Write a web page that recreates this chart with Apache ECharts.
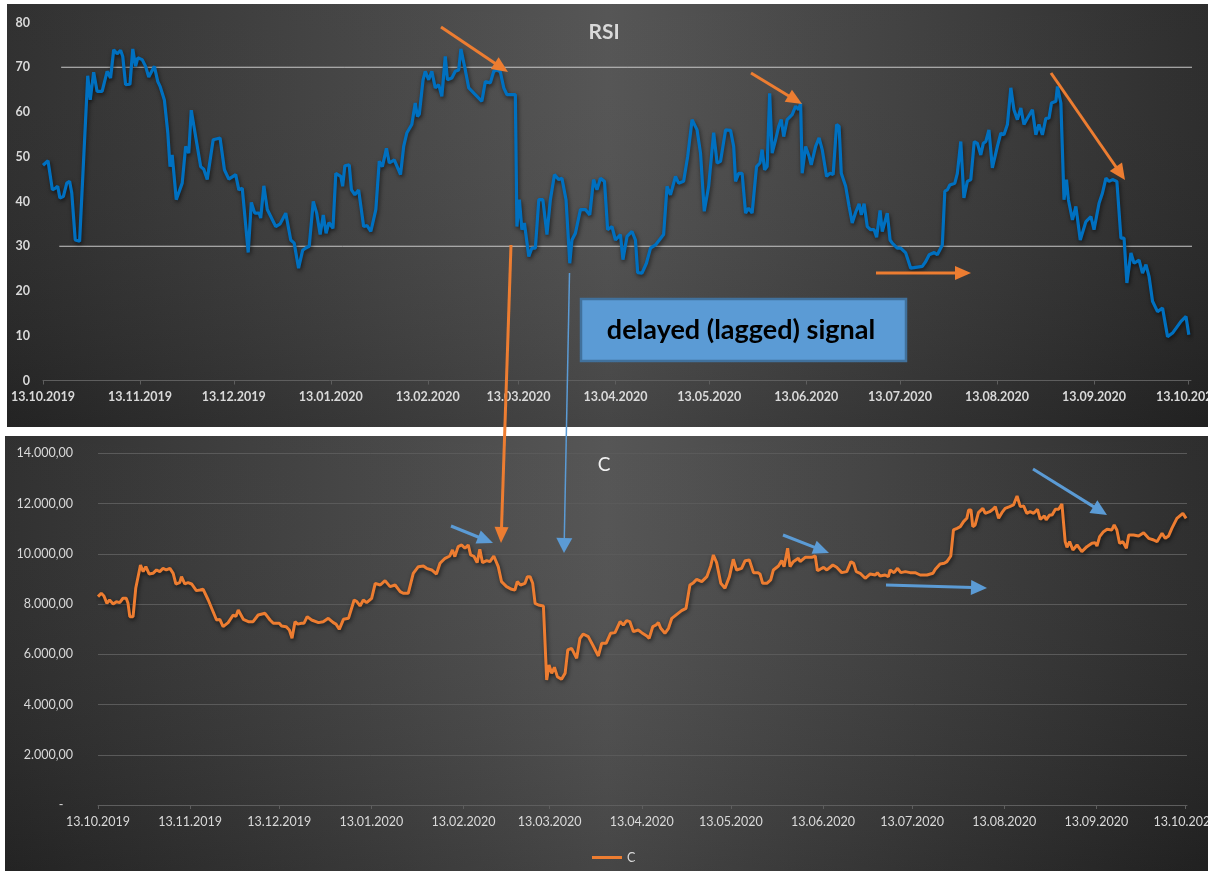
<!DOCTYPE html>
<html>
<head>
<meta charset="utf-8">
<script src="https://cdn.jsdelivr.net/npm/echarts@6/dist/echarts.min.js"></script>
<style>
  html, body { margin: 0; padding: 0; background: #ffffff; }
  #chart { width: 1208px; height: 871px; }
</style>
</head>
<body>
<div id="chart"></div>
<script>
// ---- Data (x = days since 13.10.2019) ----
const monthTickDays = [0, 31, 61, 92, 123, 152, 183, 213, 244, 274, 305, 336, 366];
const monthLabels = ['13.10.2019','13.11.2019','13.12.2019','13.01.2020','13.02.2020','13.03.2020',
  '13.04.2020','13.05.2020','13.06.2020','13.07.2020','13.08.2020','13.09.2020','13.10.2020'];

const rsiLevels = [70, 30];
const rsiLevelSpans = [[5.8, 369.3], [5.2, 368.6]];

const rsiSeries = [
[0,48.1],[1.6,49.1],[3,42.6],[4,43],[4.7,43.4],[5.4,40.8],[6.5,41.1],[7.6,44.1],[8.5,44.5],[9.2,41.9],
[10.3,31.4],[11.7,31.1],[14.3,68.1],[15.1,62.7],[16.2,68.9],[17.3,64.6],[18.9,64.6],[20.5,69.1],[21.6,67.6],[22.6,73.9],
[23.7,73],[24.8,73.8],[25.5,72.4],[26.4,66.1],[27.8,66.2],[28.7,74.1],[29.6,70.2],[30.3,72.1],[31.7,71.7],[32.8,70.2],
[33.8,67.8],[35.6,70.2],[36.7,66.8],[37.5,65.6],[38.8,62.7],[39.9,55.3],[40.6,47.8],[41.3,50.4],[42.6,40.4],[44.5,44.1],
[45.6,52.3],[46.6,50.8],[47.4,60.4],[48.8,54.5],[50.4,47.8],[51.4,47.2],[52.5,44.9],[54.4,53.8],[56.6,54.2],[58,47.1],
[59.4,45],[61.6,46],[62.6,42.6],[63.7,43],[65.6,28.6],[66.6,39.8],[67.7,37.4],[69.1,37.4],[69.6,36.3],[70.6,43.5],
[71.7,38.2],[74.4,34.4],[75.8,35],[77.6,37.4],[79.2,31.4],[80.3,30.7],[81.7,25.1],[83,29.1],[84,29.6],[85.1,30],
[86.4,40],[87.5,37.4],[88.6,32.6],[89.6,37],[90.5,32.9],[91.4,35.3],[92.7,34],[93.6,46.3],[95.2,45.6],[95.8,43.4],
[96.5,48],[97.9,48.2],[98.6,42.6],[99.7,41.5],[100.9,42.6],[102.5,34.4],[103.6,34.6],[104.8,33.3],[106.4,38.2],[107.5,49],
[108.5,47.8],[109.8,51.9],[110.7,48.6],[112.3,49.3],[114.3,46],[115.3,52.3],[116.3,55.3],[117.9,57.2],[119,62],[119.7,59],
[120.3,59.5],[121.5,67.2],[122.2,69.1],[123.3,67.2],[124.3,69.1],[125.4,65.4],[126.5,66.1],[127.5,63.5],[128.6,72.4],[129.3,67.2],
[130.7,67.6],[131.8,69.1],[132.9,69.4],[133.6,74.1],[135,69.4],[136.1,65.4],[138.2,63.9],[140.3,62.4],[141.4,66.8],[143,66.5],
[144.1,69.1],[145.1,69.4],[146.2,69],[147.3,65.4],[148.3,63.9],[151,63.9],[151.5,34.4],[152.3,40.4],[153.1,33.7],[153.9,35.2],
[155.3,27.7],[156.3,29.6],[157.4,29.6],[158.5,40.4],[159.8,40.4],[161.1,32.6],[162.2,40.4],[163.5,46],[164.9,44.9],[165.9,45.2],
[167.2,40.4],[168.4,26.2],[169.1,31.4],[170.2,32.9],[171.8,38.2],[173.4,38.2],[174.8,37],[176,44.9],[177.1,42.6],[178.2,45.2],
[179.5,44.5],[180.5,33.7],[181.9,34.4],[183,31.4],[184.6,32.6],[185.4,27],[186.7,32.2],[188.3,33.3],[189.4,31.4],[190.1,24.1],
[191.5,24],[192.9,26.2],[194.2,29.6],[195.8,30.3],[198.4,32.6],[199.5,43.4],[200.6,41.5],[202.2,45.6],[203.2,44.1],[204.8,44.5],
[206.1,50.1],[207.5,58.3],[209.1,56],[210.2,50.8],[211.4,37.8],[212.8,43.4],[214.4,55.4],[215.5,48.6],[216.6,49],[218.2,56],
[219.8,55.9],[220.8,52.3],[221.4,44.5],[222.4,46.3],[223.5,46.3],[224.6,37.4],[225.6,38.5],[226.7,37.4],[228.1,47.8],[229.2,48.6],
[229.9,51.6],[230.7,47.1],[231.5,47.8],[232.3,64.2],[233.1,50.8],[234.2,53.8],[235.2,56.8],[236,58.3],[236.8,54.5],[237.9,58.3],
[239.5,59.4],[240.6,61.3],[241.6,60.5],[242.2,62],[242.7,46.3],[243.8,52.3],[244.9,50.1],[245.6,48.2],[247,52.3],[248.1,54.2],
[249.1,51.6],[250.5,45.6],[251.6,46.3],[252.6,46],[253.7,57.2],[254.5,56.8],[255.2,46.3],[256.6,43.4],[257.7,38.9],[258.7,35.2],
[259.8,37.6],[260.9,39.5],[261.6,37],[262.5,39.5],[263.5,34.4],[264.6,33.7],[265.7,33.7],[266.5,32],[267.6,38],[268.3,33.3],
[269.9,37.4],[270.8,31.4],[271.5,30.7],[273.1,29.6],[274.2,29.6],[275.8,28.5],[277.4,25.1],[281.1,25.5],[282.2,26.6],[283.3,28.1],
[284.9,28.6],[285.9,28.1],[287.5,30.3],[288.3,42.3],[289.1,42.6],[289.9,43.7],[291.5,44.1],[292.3,46.3],[293.4,53.4],[294.4,40.8],
[295.5,44.5],[296.6,44.9],[297.7,53.4],[298.7,53],[299.8,50.4],[300.6,53],[301.4,53.4],[302.4,56],[303.5,47.5],[305.1,52.3],
[306.2,55.3],[307.2,54.9],[308.3,57.2],[309.4,65.4],[310.4,60.5],[311.5,58.3],[312.6,60.9],[313.6,57.2],[314.7,58.6],[316.3,60.5],
[317.4,54.9],[318.4,57.2],[319.5,54.9],[320.6,58.6],[321.6,58.6],[322.4,62],[323.8,62.4],[324.3,65.7],[325.4,62],[326.4,40.4],
[327.2,44.9],[327.8,40.4],[329.1,35.9],[330.2,38.9],[331.6,31.4],[333.4,35.5],[335,36.6],[336,33.7],[337.6,39.6],[338.7,41.9],
[339.8,45.2],[340.8,44.5],[341.9,44.9],[343.3,44.5],[344.6,31.8],[345.6,31.8],[346.5,21.8],[347.8,28.5],[348.8,26.2],[350.4,26.9],
[351.5,24],[352.6,25.9],[353.6,23.2],[354.7,17.7],[356.3,15.4],[357.9,16.2],[359.5,9.8],[361.1,10.6],[363.8,13.2],[365.4,14.3],
[366.3,10.2]
];

const cSeries = [
[0,8294],[1.1,8427],[2,8320],[3,8028],[3.9,8161],[5.1,8002],[6.2,8090],[7.3,8055],[8.4,8230],[9.5,8230],
[10.1,8028],[10.7,7497],[11.8,7497],[12.7,8626],[14.3,9554],[15.2,9289],[16.1,9488],[17.2,9196],[18.5,9223],[19.7,9356],
[20.8,9289],[21.9,9422],[23,9356],[24.2,9422],[25.3,9223],[26.2,8798],[27.5,8851],[28.1,9090],[29.2,8798],[30.3,8851],
[31.5,8798],[33.1,8533],[34.3,8559],[35.4,8586],[37.1,8161],[38.5,7763],[39.9,7365],[41,7390],[42.1,7099],[43.8,7259],
[45.5,7564],[46.4,7500],[47.2,7763],[48.9,7391],[50.6,7298],[52.2,7298],[53.9,7564],[56.2,7630],[57.9,7365],[59,7232],
[61,7232],[61.8,7126],[63.3,7099],[64.4,6967],[65.3,6635],[66.3,7298],[67.2,7200],[68.5,7232],[69.3,7232],[70.4,7497],
[71.9,7365],[74.2,7259],[75.8,7298],[77.5,7431],[79.2,7259],[80.1,7200],[81.2,6993],[82.6,7391],[84.3,7431],[86.2,8161],
[87.1,8100],[88.2,7922],[89.3,8161],[90.4,8055],[92.1,8227],[93.3,8825],[95,8758],[96.6,8931],[98.3,8692],[100,8758],
[101.7,8493],[102.7,8427],[104.4,8427],[106.1,9223],[107.8,9488],[109.5,9515],[110.6,9422],[112.3,9356],[113.9,9196],[115.1,9621],
[116.8,9820],[118.4,9913],[119.3,10152],[120.1,9886],[121.2,10284],[122.4,10351],[123.5,10218],[124.6,10351],[125.4,9953],[126.5,9900],
[127.6,9647],[128.5,10178],[129.4,9647],[130.8,9727],[131.9,9687],[133.2,9913],[134.7,9488],[135.8,8891],[137.5,8692],[139.2,8586],
[140.3,8559],[141.1,8891],[142.2,8758],[143.7,8825],[144.5,9090],[145.4,9090],[146.3,8825],[147.1,8028],[148.2,7962],[149.9,7922],
[151,4976],[151.8,5573],[152.7,5242],[153.6,5481],[154.6,5109],[156,5003],[157.2,5242],[158.1,6171],[159.4,6237],[161.1,5839],
[162.2,6635],[163.3,6807],[165,6701],[166.5,6369],[168.4,5932],[169.5,6436],[171,6436],[172.5,6834],[174,6861],[175.7,7298],
[176.8,7166],[177.9,7338],[179,7298],[180.2,6900],[181.8,6967],[183,6861],[184.7,6728],[185.5,6635],[186.7,7099],[187.8,7166],
[188.6,7259],[189.4,7033],[190.8,6834],[192,7033],[193.1,7431],[194.8,7590],[196.4,7736],[197.9,7829],[199.2,8758],[200.4,8851],
[201.5,8984],[203.2,8891],[204.9,9090],[206.2,9515],[207.1,9953],[208.2,9647],[209.6,8825],[211,8626],[212.5,9090],[213.8,9780],
[214.9,9356],[216.6,9422],[217.8,9727],[219.2,9753],[220.6,9249],[222,9249],[222.8,9196],[223.7,8825],[225.1,8825],[226.4,8958],
[227.3,9356],[229,9515],[230.1,9727],[230.9,9488],[232.1,10218],[232.9,9488],[234,9687],[235.7,9820],[236.3,9687],[238,9860],
[240.2,9860],[241.4,9913],[242.1,9329],[243,9382],[244.2,9461],[245.3,9356],[247.3,9554],[248.6,9461],[250.3,9249],[252,9289],
[253.4,9687],[254.3,9620],[255.2,9289],[256.5,9223],[258.2,9024],[259.9,9196],[261.6,9156],[262.3,9249],[263.2,9116],[264.9,9156],
[266,9090],[266.6,9356],[267.9,9249],[269.1,9422],[270.2,9249],[271.7,9289],[273.3,9249],[275,9249],[276.7,9156],[279,9156],
[281,9223],[281.8,9382],[283.4,9594],[284.8,9621],[285.7,9687],[287,9913],[287.9,10948],[289.1,11014],[290.2,11080],[291.3,11280],
[292.4,11412],[293,11744],[293.8,11744],[294.4,11080],[295.2,11147],[296.3,11638],[297.8,11810],[298.6,11611],[300.1,11677],[301.2,11770],
[302,11877],[303.1,11412],[304.2,11638],[305.3,11810],[306.8,11877],[308.1,11943],[309.3,12301],[310.4,11877],[311.5,11903],[312.6,11611],
[313.7,11677],[314.9,11611],[316.2,11770],[317.1,11372],[318.5,11505],[319.1,11346],[320.3,11545],[321.1,11545],[322.2,11770],[323.3,11770],
[324.4,11983],[325.5,10483],[326.1,10258],[327,10483],[328.1,10151],[329.5,10351],[331.1,10085],[332.8,10284],[334.5,10417],[335.6,10444],
[336.2,10311],[337.1,10682],[338.4,10881],[339.6,10974],[341.2,10948],[342,11147],[342.9,10948],[343.8,10417],[344.9,10483],[346.1,10218],
[346.9,10749],[348.5,10749],[350.2,10709],[351.9,10841],[353.6,10616],[355.3,10550],[356.4,10483],[358.1,10815],[359.2,10616],[360.3,10709],
[361.4,11014],[363.1,11412],[365.1,11611],[366.2,11412]
];

// ---- Styling helpers ----
const FONT = 'Lato, "Open Sans", sans-serif';
const ORANGE = '#ed7d31';
const BLUE_ANN = '#5b9bd5';

function dayLabel(v) {
  const i = monthTickDays.indexOf(v);
  return i >= 0 ? monthLabels[i] : '';
}
function deNumber(v) {
  if (v === 0) return '-   ';
  const s = Math.round(v).toString().replace(/\B(?=(\d{3})+(?!\d))/g, '.');
  return s + ',00';
}
function arrow(x1, y1, x2, y2, color, w, hl, hw) {
  const dx = x2 - x1, dy = y2 - y1, L = Math.hypot(dx, dy);
  const ux = dx / L, uy = dy / L, px = -uy, py = ux;
  const bx = x2 - ux * hl, by = y2 - uy * hl;
  return [
    { type: 'line', z: 100, shape: { x1: x1, y1: y1, x2: bx + ux * 2, y2: by + uy * 2 },
      style: { stroke: color, lineWidth: w } },
    { type: 'polygon', z: 100, shape: { points: [[x2, y2], [bx + px * hw / 2, by + py * hw / 2], [bx - px * hw / 2, by - py * hw / 2]] },
      style: { fill: color } }
  ];
}

// Annotation arrows (pixel annotations, not data)
const annotations = [].concat(
  arrow(441, 27, 508, 72, ORANGE, 3, 16, 14),
  arrow(751, 73, 802, 104, ORANGE, 3, 16, 14),
  arrow(1051, 73, 1125, 180, ORANGE, 3, 16, 15),
  arrow(876, 273, 971, 273, ORANGE, 3, 16, 14),
  arrow(511, 245, 501, 543, ORANGE, 3, 16, 14),
  arrow(569.5, 273, 564, 553, BLUE_ANN, 1.5, 15, 16),
  arrow(451, 526, 493, 543, BLUE_ANN, 3, 16, 14),
  arrow(783, 535, 829, 553, BLUE_ANN, 3, 16, 14),
  arrow(886, 585, 987, 588, BLUE_ANN, 3, 16, 15),
  arrow(1033, 469, 1107, 515, BLUE_ANN, 3, 16, 15)
);

const chart = echarts.init(document.getElementById('chart'), null, { renderer: 'canvas' });

const panelFill = () => new echarts.graphic.LinearGradient(0, 0, 1, 0, [
  { offset: 0, color: '#282828' },
  { offset: 0.5, color: '#4f4f4f' },
  { offset: 1, color: '#252525' }
]);
const panelShade = () => new echarts.graphic.LinearGradient(0, 0, 0, 1, [
  { offset: 0, color: 'rgba(255,255,255,0.04)' },
  { offset: 1, color: 'rgba(0,0,0,0.12)' }
]);

const option = {
  animation: false,
  backgroundColor: '#ffffff',
  title: [
    { text: 'RSI', left: 'center', top: 17,
      textStyle: { color: '#d9d9d9', fontFamily: FONT, fontWeight: 'bold', fontSize: 21 } },
    { text: 'C', left: 'center', top: 450,
      textStyle: { color: '#f2f2f2', fontFamily: FONT, fontWeight: 'normal', fontSize: 19 } }
  ],
  legend: {
    data: ['C'], left: 587, top: 846, icon: 'rect', itemWidth: 30, itemHeight: 3,
    textStyle: { color: '#d9d9d9', fontFamily: FONT, fontSize: 12.5 }
  },
  grid: [
    { left: 43, right: 17, top: 22.5, bottom: 490.5, outerBoundsMode: 'none' },
    { left: 98, right: 21, top: 453.3, bottom: 66, outerBoundsMode: 'none' }
  ],
  xAxis: [
    { type: 'value', gridIndex: 0, min: 0, max: 367,
      axisLine: { show: true, lineStyle: { color: '#5e5e5e', width: 1 } },
      axisTick: { show: true, length: 4, customValues: monthTickDays, lineStyle: { color: '#5e5e5e' } },
      axisLabel: { customValues: monthTickDays, formatter: dayLabel, color: '#d9d9d9',
        fontFamily: FONT, fontWeight: 'bold', fontSize: 12.5, margin: 10 },
      splitLine: { show: false } },
    { type: 'value', gridIndex: 1, min: 0, max: 366.5,
      axisLine: { show: true, lineStyle: { color: '#5e5e5e', width: 1 } },
      axisTick: { show: true, length: 4, customValues: monthTickDays, lineStyle: { color: '#5e5e5e' } },
      axisLabel: { customValues: monthTickDays, formatter: dayLabel, color: '#d9d9d9',
        fontFamily: FONT, fontSize: 12.5, margin: 10 },
      splitLine: { show: false } }
  ],
  yAxis: [
    { type: 'value', gridIndex: 0, min: 0, max: 80, interval: 10,
      axisLine: { show: false }, axisTick: { show: false }, splitLine: { show: false },
      axisLabel: { color: '#d9d9d9', fontFamily: FONT, fontWeight: 'bold', fontSize: 12.5, margin: 13 } },
    { type: 'value', gridIndex: 1, min: 0, max: 14000, interval: 2000,
      axisLine: { show: false }, axisTick: { show: false },
      splitLine: { show: true, lineStyle: { color: '#5a5a5a', width: 1 } },
      axisLabel: { color: '#d9d9d9', fontFamily: FONT, fontSize: 12.5, margin: 25, formatter: deNumber } }
  ],
  series: [
    { name: 'L70', type: 'line', xAxisIndex: 0, yAxisIndex: 0, clip: false, silent: true,
      showSymbol: false, z: 1,
      data: rsiLevelSpans[0].map(d => [d, rsiLevels[0]]),
      lineStyle: { color: '#c8c8c8', width: 1 } },
    { name: 'L30', type: 'line', xAxisIndex: 0, yAxisIndex: 0, clip: false, silent: true,
      showSymbol: false, z: 1,
      data: rsiLevelSpans[1].map(d => [d, rsiLevels[1]]),
      lineStyle: { color: '#c8c8c8', width: 1 } },
    { name: 'RSI', type: 'line', xAxisIndex: 0, yAxisIndex: 0, showSymbol: false, z: 3,
      data: rsiSeries,
      lineStyle: { color: '#0070c0', width: 3.2, shadowColor: 'rgba(0,0,0,0.6)', shadowBlur: 4, shadowOffsetY: 2, shadowOffsetX: 1 },
      itemStyle: { color: '#0070c0' } },
    { name: 'C', type: 'line', xAxisIndex: 1, yAxisIndex: 1, showSymbol: false, z: 3,
      data: cSeries,
      lineStyle: { color: ORANGE, width: 3, shadowColor: 'rgba(0,0,0,0.6)', shadowBlur: 4, shadowOffsetY: 2, shadowOffsetX: 1 },
      itemStyle: { color: ORANGE } }
  ],
  graphic: [
    { type: 'rect', z: -10, silent: true, shape: { x: 7, y: 4, width: 1201, height: 423 }, style: { fill: panelFill() } },
    { type: 'rect', z: -9, silent: true, shape: { x: 7, y: 4, width: 1201, height: 423 }, style: { fill: panelShade() } },
    { type: 'rect', z: -10, silent: true, shape: { x: 5, y: 436, width: 1203, height: 435 }, style: { fill: panelFill() } },
    { type: 'rect', z: -9, silent: true, shape: { x: 5, y: 436, width: 1203, height: 435 }, style: { fill: panelShade() } },
    { type: 'rect', z: 100, shape: { x: 581, y: 299, width: 325, height: 62 },
      style: { fill: '#5b9bd5', stroke: '#41719c', lineWidth: 2.5 } },
    { type: 'text', z: 101, style: { text: 'delayed (lagged) signal', x: 741, y: 330,
      textAlign: 'center', textVerticalAlign: 'middle', align: 'center', verticalAlign: 'middle',
      font: 'bold 27px ' + FONT, fill: '#000000' } }
  ].concat(annotations)
};

chart.setOption(option);
</script>
</body>
</html>
